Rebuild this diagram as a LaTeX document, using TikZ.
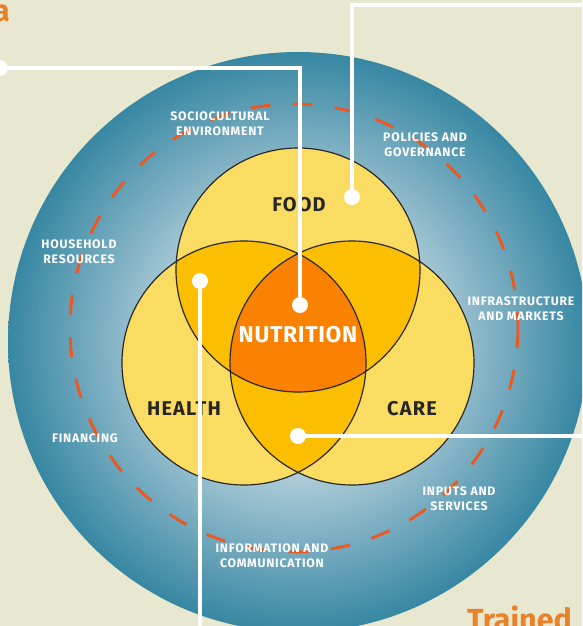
\documentclass[tikz,border=0pt]{standalone}
\usepackage{fontspec}
\setmainfont{Fira Sans}
\usepackage{xcolor}

\definecolor{paper}{RGB}{232,232,208}
\definecolor{ringblue}{RGB}{55,135,163}
\definecolor{ringlight}{RGB}{222,232,238}
\definecolor{lightyellow}{RGB}{251,220,99}
\definecolor{midyellow}{RGB}{251,190,0}
\definecolor{core}{RGB}{251,130,0}
\definecolor{dashorange}{RGB}{236,88,34}
\definecolor{titleorange}{RGB}{232,130,42}
\definecolor{darktext}{RGB}{38,38,38}

\pgfdeclareradialshading{ringshade}{\pgfpoint{0bp}{0bp}}{%
  color(0bp)=(ringlight); color(6bp)=(ringlight); color(25bp)=(ringblue); color(50bp)=(ringblue)}

\tikzset{
  ringlabel/.style={text=white, font=\bfseries\fontsize{10.5}{12.5}\selectfont\addfontfeatures{LetterSpace=6}, align=center, inner sep=0pt},
  pillar/.style={text=darktext, font=\bfseries\fontsize{17}{19}\selectfont\addfontfeatures{LetterSpace=6}, inner sep=0pt},
  dot/.style={circle, fill=white, inner sep=0pt, minimum size=0.48cm},
  callout/.style={white, line width=3.4pt},
}

\begin{document}
\begin{tikzpicture}[x=0.03cm, y=-0.03cm]
    \useasboundingbox (0,0) rectangle (582,626);
    \clip (0,0) rectangle (582,626);
    \fill[paper] (0,0) rectangle (582,626);

    % outer ring and its dashed border
    \shade[shading=ringshade] (298,342) circle (290);
    \draw[dashorange, line width=2.5pt, dash pattern=on 17pt off 19pt] (294,328) circle (224);

    % the three pillars
    \coordinate (foodc) at (298,270);
    \coordinate (healthc) at (244,363);
    \coordinate (carec) at (352,363);
    \fill[lightyellow] (foodc) circle (122) (healthc) circle (122) (carec) circle (122);
    \begin{scope}
        \clip (foodc) circle (122);
        \fill[midyellow] (healthc) circle (122) (carec) circle (122);
    \end{scope}
    \begin{scope}
        \clip (healthc) circle (122);
        \fill[midyellow] (carec) circle (122);
    \end{scope}
    \begin{scope}
        \clip (foodc) circle (122);
        \clip (healthc) circle (122);
        \fill[core] (carec) circle (122);
    \end{scope}
    \draw[line width=1pt, black!85] (foodc) circle (122) (healthc) circle (122) (carec) circle (122);

    \node[pillar] (food) at (299,205) {FOOD};
    \node[pillar] (health) at (184,409) {HEALTH};
    \node[pillar] (care) at (412,409) {CARE};
    \node[text=white, font=\bfseries\fontsize{19.5}{21}\selectfont\addfontfeatures{LetterSpace=3}, inner sep=0pt] (nutrition) at (298,335) {NUTRITION};

    \node[ringlabel] (socio) at (220,124) {SOCIOCULTURAL\\ENVIRONMENT};
    \node[ringlabel] (policy) at (425,145) {POLICIES AND\\GOVERNANCE};
    \node[ringlabel] (household) at (79,252) {HOUSEHOLD\\RESOURCES};
    \node[ringlabel] (infra) at (521,309) {INFRASTRUCTURE\\AND MARKETS};
    \node[ringlabel] (finance) at (85,438) {FINANCING};
    \node[ringlabel] (inputs) at (459,499) {INPUTS AND\\SERVICES};
    \node[ringlabel] (info) at (272,556) {INFORMATION AND\\COMMUNICATION};

    % callouts
    \node[dot] (nutdot) at (300,305) {};
    \node[dot] (leftdot) at (0,68) {};
    \node[dot] (fooddot) at (352,197) {};
    \node[dot] (healthdot) at (200,281) {};
    \node[dot] (caredot) at (298,436) {};
    \coordinate (topend) at (590,5);
    \coordinate (bottomend) at (200,632);
    \coordinate (rightend) at (590,436);
    \draw[callout] (nutdot) |- (leftdot);
    \draw[callout] (fooddot) |- (topend);
    \draw[callout] (healthdot) -- (bottomend);
    \draw[callout] (caredot) -- (rightend);

    \node[text=titleorange, font=\bfseries\fontsize{26}{28}\selectfont, inner sep=0pt, anchor=base east] (topword) at (10,22) {a};
    \node[text=titleorange, font=\bfseries\fontsize{26}{28}\selectfont, inner sep=0pt, anchor=base west] (bottomword) at (467,630) {Trained};
\end{tikzpicture}
\end{document}
